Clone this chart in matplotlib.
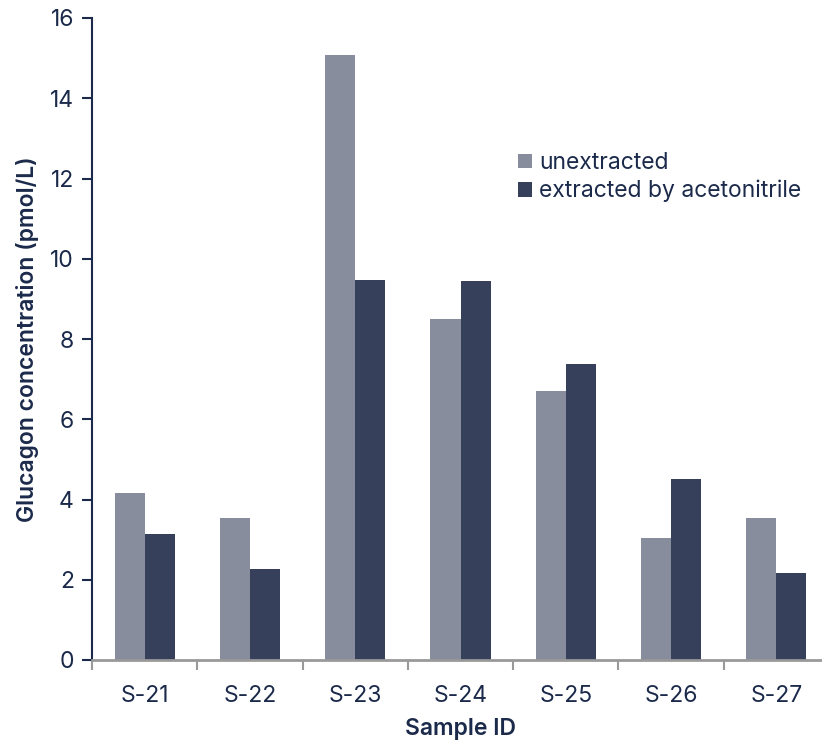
import matplotlib
matplotlib.use("Agg")
import matplotlib.pyplot as plt
import numpy as np

samples = ["S-21", "S-22", "S-23", "S-24", "S-25", "S-26", "S-27"]
unextracted = [4.15, 3.55, 15.07, 8.5, 6.7, 3.05, 3.55]
extracted = [3.15, 2.27, 9.47, 9.45, 7.37, 4.5, 2.18]
series_names = ["unextracted", "extracted by acetonitrile"]

plt.rcParams['font.family'] = ['Inter', 'DejaVu Sans']
txt = "#1b2a4a"
c1 = "#878d9c"
c2 = "#37405a"

fig = plt.figure(figsize=(8.22, 7.46), dpi=100)
W, H = 822, 746
ax = fig.add_axes([92 / W, (746 - 660) / H, 737 / W, 642 / H])

x = np.arange(len(samples))
bw = 0.285
ax.bar(x - bw / 2, unextracted, bw, color=c1, label=series_names[0])
ax.bar(x + bw / 2, extracted, bw, color=c2, label=series_names[1])

ax.set_xlim(-0.5, len(samples) - 0.5)
ax.set_ylim(0, 16)
ax.set_yticks(range(0, 17, 2))
ax.set_xticks(x)
ax.set_xticklabels(samples)
ax.set_xticks(np.arange(-0.5, len(samples), 1.0), minor=True)
ax.tick_params(axis='x', which='major', length=0, pad=18, labelsize=16.5, labelcolor=txt)
ax.tick_params(axis='x', which='minor', length=7, width=1.5, color="#999999", direction='out')
ax.tick_params(axis='y', length=7, width=1.5, color=txt, labelsize=16.5, labelcolor=txt, pad=6)

for s in ['top', 'right']:
    ax.spines[s].set_visible(False)
ax.spines['left'].set_color(txt)
ax.spines['left'].set_linewidth(1.5)
ax.spines['bottom'].set_color("#999999")
ax.spines['bottom'].set_linewidth(2)

ax.set_xlabel("Sample ID", fontsize=16.5, color=txt, fontweight='semibold', labelpad=8)
ax.set_ylabel("Glucagon concentration (pmol/L)", fontsize=16.5, color=txt, fontweight='semibold', labelpad=8)

leg = ax.legend(loc='upper left', bbox_to_anchor=((509 - 92) / 737, (660 - 143) / 642),
                frameon=False, fontsize=16.5, handlelength=0.6, handleheight=0.6,
                handletextpad=0.3, labelspacing=0.25, borderaxespad=0)
for t in leg.get_texts():
    t.set_color(txt)

fig.savefig("out.png", dpi=100)
